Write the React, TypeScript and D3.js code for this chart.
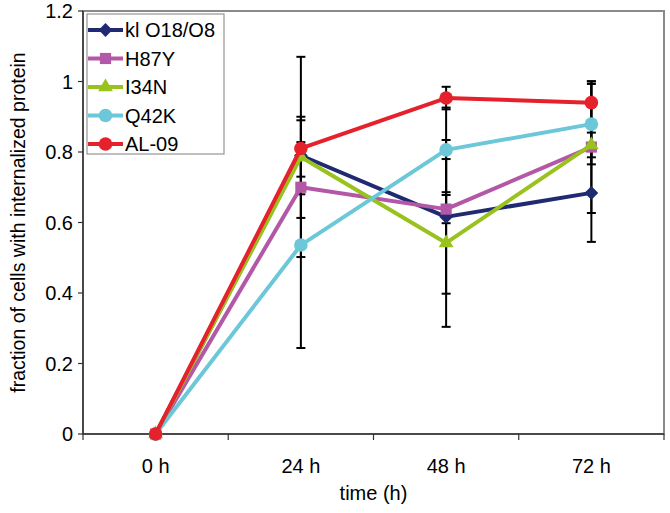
import React from 'react';
import * as d3 from 'd3';

// time points
const times = ['0 h', '24 h', '48 h', '72 h'];
const yTicks = [0, 0.2, 0.4, 0.6, 0.8, 1, 1.2];

// series values (fraction of cells)
const klValues = [0, 0.79, 0.616, 0.684];
const h87yValues = [0, 0.70, 0.638, 0.814];
const i34nValues = [0, 0.786, 0.542, 0.82];
const q42kValues = [0, 0.536, 0.806, 0.879];
const al09Values = [0, 0.81, 0.953, 0.94];

// error bars (+/-)
const klErr = [0, 0.11, 0.218, 0.139];
const h87yErr = [0, 0.087, 0.04, 0.187];
const i34nErr = [0, 0.284, 0.238, 0.035];
const q42kErr = [0, 0.292, 0.12, 0.114];
const al09Err = [0, 0.08, 0.032, 0.06];

const seriesNames = ['kl O18/O8', 'H87Y', 'I34N', 'Q42K', 'AL-09'];
const seriesColors = ['#1f2a72', '#b358a6', '#99c21e', '#6cc8d8', '#e5212b'];
const seriesShapes = ['diamond', 'square', 'triangle', 'circle', 'circle'];

const W = 670;
const H = 513;
const left = 83;
const right = 664;
const top = 11;
const bottom = 434;
const font = '"Liberation Sans", Arial, sans-serif';

const Marker = ({ shape, color, x, y }: { shape: string; color: string; x: number; y: number }) => {
  let path;
  let rot = 0;
  if (shape === 'diamond') {
    path = d3.symbol().type(d3.symbolSquare).size(95)();
    rot = 45;
  } else if (shape === 'square') {
    path = d3.symbol().type(d3.symbolSquare).size(125)();
  } else if (shape === 'triangle') {
    path = d3.symbol().type(d3.symbolTriangle).size(95)();
  } else {
    path = d3.symbol().type(d3.symbolCircle).size(145)();
  }
  return <path d={path} fill={color} transform={`translate(${x},${y}) rotate(${rot})`} />;
};

export default function App() {
  const values = [klValues, h87yValues, i34nValues, q42kValues, al09Values];
  const errs = [klErr, h87yErr, i34nErr, q42kErr, al09Err];

  const x = d3.scaleBand().domain(times).range([left, right]).padding(0);
  const cx = (t: string) => (x(t) as number) + x.bandwidth() / 2;
  const y = d3.scaleLinear().domain([0, 1.2]).range([bottom, top]);

  const line = d3
    .line<number>()
    .x((d, i) => cx(times[i]))
    .y(d => y(d));

  const boundaries = times.map(t => x(t) as number).concat([right]);

  return (
    <svg width={W} height={H} style={{ position: 'absolute', left: 0, top: 0, background: '#fff' }}>
      {/* plot frame */}
      <rect x={left} y={top} width={right - left} height={bottom - top} fill="none" stroke="#8a8a8a" strokeWidth={2} />

      {/* y axis */}
      <line x1={left} x2={left} y1={top} y2={bottom} stroke="#333" strokeWidth={1.5} />
      {yTicks.map(t => (
        <g key={t}>
          <line x1={left - 5} x2={left} y1={y(t)} y2={y(t)} stroke="#333" strokeWidth={1.2} />
          <text x={left - 10} y={y(t)} dy="0.35em" textAnchor="end" fontFamily={font} fontSize={20} fill="#000">
            {t}
          </text>
        </g>
      ))}
      <text
        transform={`translate(18,${(top + bottom) / 2}) rotate(-90)`}
        textAnchor="middle"
        dy="0.35em"
        fontFamily={font}
        fontSize={19.5}
        fill="#000"
      >
        fraction of cells with internalized protein
      </text>

      {/* x axis */}
      <line x1={left} x2={right} y1={bottom} y2={bottom} stroke="#333" strokeWidth={1.5} />
      {boundaries.map((b, i) => (
        <line key={i} x1={b} x2={b} y1={bottom} y2={bottom + 6} stroke="#333" strokeWidth={1.2} />
      ))}
      {times.map(t => (
        <text key={t} x={cx(t)} y={466} dy="0.35em" textAnchor="middle" fontFamily={font} fontSize={20} fill="#000">
          {t}
        </text>
      ))}
      <text x={(left + right) / 2} y={493} dy="0.35em" textAnchor="middle" fontFamily={font} fontSize={20} fill="#000">
        time (h)
      </text>

      {/* error bars */}
      {values.map((vals, s) =>
        vals.map((v, i) => {
          const e = errs[s][i];
          if (!e) return null;
          const px = cx(times[i]);
          return (
            <g key={`e${s}-${i}`} stroke="#000" strokeWidth={2}>
              <line x1={px} x2={px} y1={y(v + e)} y2={y(v - e)} />
              <line x1={px - 4.5} x2={px + 4.5} y1={y(v + e)} y2={y(v + e)} />
              <line x1={px - 4.5} x2={px + 4.5} y1={y(v - e)} y2={y(v - e)} />
            </g>
          );
        })
      )}

      {/* series */}
      {values.map((vals, s) => (
        <g key={seriesNames[s]}>
          <path d={line(vals) as string} fill="none" stroke={seriesColors[s]} strokeWidth={4} strokeLinejoin="round" />
          {vals.map((v, i) => (
            <Marker key={i} shape={seriesShapes[s]} color={seriesColors[s]} x={cx(times[i])} y={y(v)} />
          ))}
        </g>
      ))}

      {/* legend */}
      <rect x={87} y={14} width={137} height={140} fill="#fff" stroke="#808080" strokeWidth={1} />
      {seriesNames.map((name, i) => {
        const ly = 30 + i * 28.5;
        return (
          <g key={name}>
            <line x1={88} x2={123} y1={ly} y2={ly} stroke={seriesColors[i]} strokeWidth={4} />
            <Marker shape={seriesShapes[i]} color={seriesColors[i]} x={105.5} y={ly} />
            <text x={125} y={ly} dy="0.35em" fontFamily={font} fontSize={20} fill="#000">
              {name}
            </text>
          </g>
        );
      })}
    </svg>
  );
}
